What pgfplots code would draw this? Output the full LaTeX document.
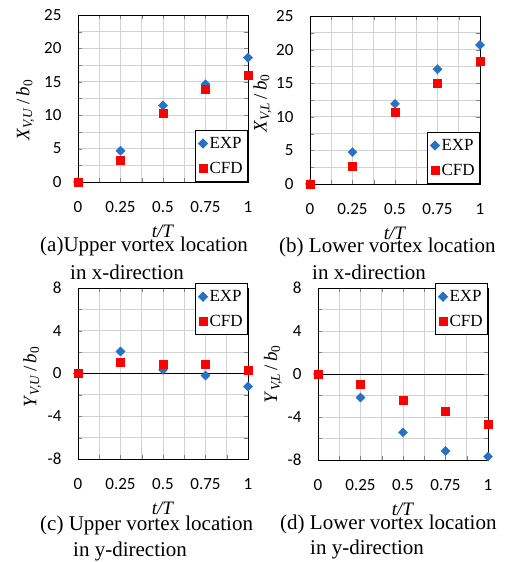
\documentclass[border=0pt]{standalone}
\usepackage{pgfplots}
\pgfplotsset{compat=1.18}
\usepackage{fontspec}
\setmainfont{Liberation Serif}
\newfontfamily\tickfont{Carlito}
\definecolor{expblue}{RGB}{38,114,196}
\definecolor{cfdred}{RGB}{255,0,0}
\definecolor{gridgray}{RGB}{210,210,210}
\pgfplotsset{
  panel/.style={
    scale only axis, width=170pt,
    xmin=0,xmax=1, xtick={0,0.25,0.5,0.75,1},
    xticklabels={0,0.25,0.5,0.75,1},
    minor x tick num=1, minor y tick num=1,
    grid=both,
    grid style={color=gridgray, line width=0.8pt},
    tick align=inside,
    major tick length=4pt, minor tick length=4pt,
    ticklabel style={font=\tickfont\fontsize{17}{17}\selectfont},
    xticklabel style={yshift=-16pt},
    yticklabel style={xshift=-13pt},
    xlabel={\textit{t/T}},
    xlabel style={font=\fontsize{19}{19}\selectfont, at={(axis description cs:0.5,0)}, anchor=center, yshift=-49pt},
    ylabel style={font=\fontsize{19}{19}\selectfont, anchor=center},
    clip=false,
    legend cell align=left,
    legend image code/.code={\draw[mark repeat=2,mark phase=2,##1] plot coordinates {(0cm,0cm) (0.15cm,0cm) (0.3cm,0cm)};},
    legend style={draw=black, line width=0.8pt, fill=white, font=\fontsize{17}{17}\selectfont, row sep=8pt, inner xsep=3pt, inner ysep=5pt},
  },
  zeroline/.style={extra y ticks={0}, extra y tick labels={}, extra y tick style={grid=major, major grid style={color=black}}},
  expstyle/.style={only marks, mark=square*, mark size=3.2pt, mark options={rotate=45, fill=expblue, draw=expblue}},
  cfdstyle/.style={only marks, mark=square*, mark size=4pt, mark options={fill=cfdred, draw=cfdred}},
}
\begin{document}
\begin{tikzpicture}
\path (0pt,0pt) rectangle (511pt,-562pt);
% (a)
\begin{axis}[panel, at={(78pt,-15pt)}, anchor=north west, height=167pt,
  ymin=0, ymax=25, ytick={0,5,10,15,20,25}, yticklabels={0,5,10,15,20,25},
  ylabel={\textit{X}\textsubscript{\textit{V,U}}\,/\,\textit{b}\textsubscript{0}},
  ylabel style={at={(axis description cs:-0.31,0.43)}},
  legend style={at={(1,0)}, anchor=south east}]
\addplot[expstyle] coordinates {(0,0) (0.25,4.68) (0.5,11.45) (0.75,14.64) (1,18.6)};
\addplot[cfdstyle] coordinates {(0,0) (0.25,3.24) (0.5,10.26) (0.75,13.94) (1,15.94)};
\legend{EXP,CFD}
\end{axis}
% (b)
\begin{axis}[panel, at={(310pt,-16pt)}, anchor=north west, height=168pt,
  ymin=0, ymax=25, ytick={0,5,10,15,20,25}, yticklabels={0,5,10,15,20,25},
  ylabel={\textit{X}\textsubscript{\textit{V,L}}\,/\,\textit{b}\textsubscript{0}},
  ylabel style={at={(axis description cs:-0.28,0.48)}},
  legend style={at={(1,0)}, anchor=south east}]
\addplot[expstyle] coordinates {(0,0) (0.25,4.75) (0.5,11.93) (0.75,17.08) (1,20.69)};
\addplot[cfdstyle] coordinates {(0,0) (0.25,2.72) (0.5,10.64) (0.75,15.0) (1,18.22)};
\legend{EXP,CFD}
\end{axis}
% (c)
\begin{axis}[panel, zeroline, at={(78pt,-288pt)}, anchor=north west, height=171pt,
  ymin=-8, ymax=8, ytick={-8,-4,0,4,8}, yticklabels={-8,-4,0,4,8},
  ylabel={\textit{Y}\textsubscript{\textit{V,U}}\,/\,\textit{b}\textsubscript{0}},
  ylabel style={at={(axis description cs:-0.27,0.48)}},
  legend style={at={(1,1)}, anchor=north east, yshift=5pt}]
\addplot[expstyle] coordinates {(0,0) (0.25,2.06) (0.5,0.34) (0.75,-0.19) (1,-1.22)};
\addplot[cfdstyle] coordinates {(0,0) (0.25,1.09) (0.5,0.84) (0.75,0.84) (1,0.34)};
\legend{EXP,CFD}
\end{axis}
% (d)
\begin{axis}[panel, zeroline, at={(318pt,-288pt)}, anchor=north west, height=172pt,
  ymin=-8, ymax=8, ytick={-8,-4,0,4,8}, yticklabels={-8,-4,0,4,8},
  ylabel={\textit{Y}\textsubscript{\textit{V,L}}\,/\,\textit{b}\textsubscript{0}},
  ylabel style={at={(axis description cs:-0.265,0.5)}},
  legend style={at={(1,1)}, anchor=north east, yshift=5pt}]
\addplot[expstyle] coordinates {(0,0) (0.25,-2.19) (0.5,-5.43) (0.75,-7.16) (1,-7.69)};
\addplot[cfdstyle] coordinates {(0,0) (0.25,-0.93) (0.5,-2.41) (0.75,-3.43) (1,-4.69)};
\legend{EXP,CFD}
\end{axis}
% captions
\begin{scope}[every node/.style={font=\fontsize{21}{21}\selectfont, inner sep=0pt}]
\node[anchor=base west] at (40pt,-251pt) {(a)Upper vortex location};
\node[anchor=base west] at (70pt,-279pt) {in x-direction};
\node[anchor=base west] at (279pt,-252pt) {(b) Lower vortex location};
\node[anchor=base west] at (312pt,-279pt) {in x-direction};
\node[anchor=base west] at (40pt,-530pt) {(c) Upper vortex location};
\node[anchor=base west] at (73pt,-556pt) {in y-direction};
\node[anchor=base west] at (280pt,-529pt) {(d) Lower vortex location};
\node[anchor=base west] at (310pt,-554pt) {in y-direction};
\end{scope}
\end{tikzpicture}
\end{document}
